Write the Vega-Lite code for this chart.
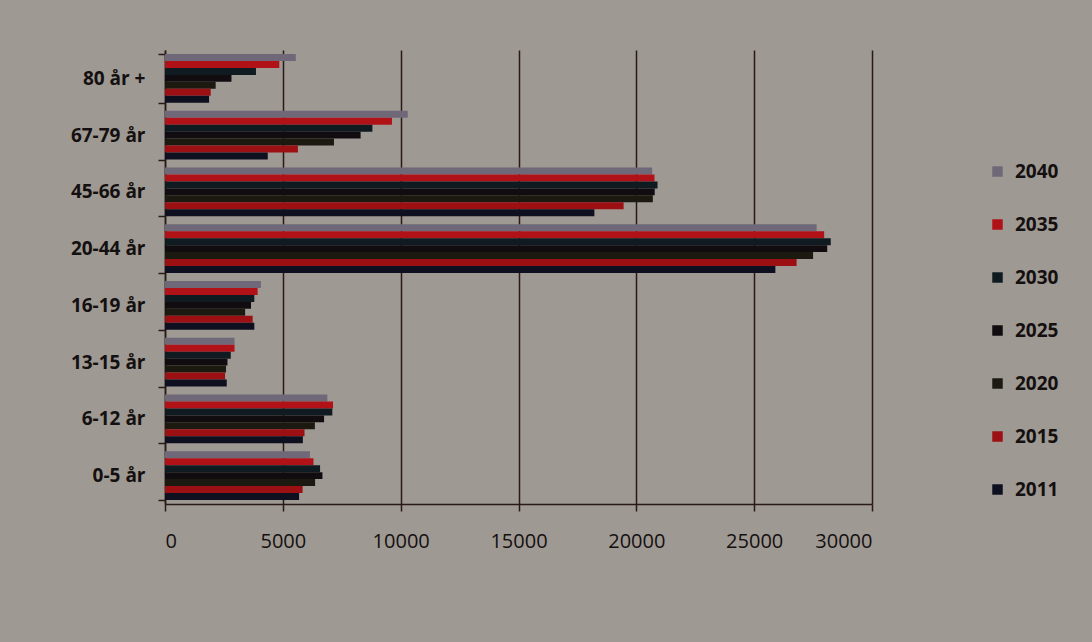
{
  "$schema": "https://vega.github.io/schema/vega-lite/v6.json",
  "autosize": "none",
  "width": 707,
  "height": 454,
  "padding": {"left": 165, "top": 50, "right": 220, "bottom": 138},
  "background": "#9f9993",
  "config": {
    "view": {"stroke": null},
    "font": "Open Sans",
    "scale": {"offsetBandPaddingInner": 0, "offsetBandPaddingOuter": 0}
  },
  "data": {
    "values": [
      {"g": "80 år +", "year": "2040", "v": 5550},
      {"g": "80 år +", "year": "2035", "v": 4850},
      {"g": "80 år +", "year": "2030", "v": 3860},
      {"g": "80 år +", "year": "2025", "v": 2820},
      {"g": "80 år +", "year": "2020", "v": 2150},
      {"g": "80 år +", "year": "2015", "v": 1940},
      {"g": "80 år +", "year": "2011", "v": 1870},
      {"g": "67-79 år", "year": "2040", "v": 10300},
      {"g": "67-79 år", "year": "2035", "v": 9630},
      {"g": "67-79 år", "year": "2030", "v": 8800},
      {"g": "67-79 år", "year": "2025", "v": 8300},
      {"g": "67-79 år", "year": "2020", "v": 7170},
      {"g": "67-79 år", "year": "2015", "v": 5640},
      {"g": "67-79 år", "year": "2011", "v": 4360},
      {"g": "45-66 år", "year": "2040", "v": 20670},
      {"g": "45-66 år", "year": "2035", "v": 20770},
      {"g": "45-66 år", "year": "2030", "v": 20900},
      {"g": "45-66 år", "year": "2025", "v": 20780},
      {"g": "45-66 år", "year": "2020", "v": 20700},
      {"g": "45-66 år", "year": "2015", "v": 19460},
      {"g": "45-66 år", "year": "2011", "v": 18220},
      {"g": "20-44 år", "year": "2040", "v": 27650},
      {"g": "20-44 år", "year": "2035", "v": 27970},
      {"g": "20-44 år", "year": "2030", "v": 28250},
      {"g": "20-44 år", "year": "2025", "v": 28100},
      {"g": "20-44 år", "year": "2020", "v": 27500},
      {"g": "20-44 år", "year": "2015", "v": 26800},
      {"g": "20-44 år", "year": "2011", "v": 25900},
      {"g": "16-19 år", "year": "2040", "v": 4070},
      {"g": "16-19 år", "year": "2035", "v": 3930},
      {"g": "16-19 år", "year": "2030", "v": 3790},
      {"g": "16-19 år", "year": "2025", "v": 3650},
      {"g": "16-19 år", "year": "2020", "v": 3400},
      {"g": "16-19 år", "year": "2015", "v": 3720},
      {"g": "16-19 år", "year": "2011", "v": 3790},
      {"g": "13-15 år", "year": "2040", "v": 2950},
      {"g": "13-15 år", "year": "2035", "v": 2950},
      {"g": "13-15 år", "year": "2030", "v": 2790},
      {"g": "13-15 år", "year": "2025", "v": 2650},
      {"g": "13-15 år", "year": "2020", "v": 2590},
      {"g": "13-15 år", "year": "2015", "v": 2550},
      {"g": "13-15 år", "year": "2011", "v": 2620},
      {"g": "6-12 år", "year": "2040", "v": 6890},
      {"g": "6-12 år", "year": "2035", "v": 7130},
      {"g": "6-12 år", "year": "2030", "v": 7100},
      {"g": "6-12 år", "year": "2025", "v": 6750},
      {"g": "6-12 år", "year": "2020", "v": 6360},
      {"g": "6-12 år", "year": "2015", "v": 5920},
      {"g": "6-12 år", "year": "2011", "v": 5850},
      {"g": "0-5 år", "year": "2040", "v": 6150},
      {"g": "0-5 år", "year": "2035", "v": 6300},
      {"g": "0-5 år", "year": "2030", "v": 6580},
      {"g": "0-5 år", "year": "2025", "v": 6680},
      {"g": "0-5 år", "year": "2020", "v": 6370},
      {"g": "0-5 år", "year": "2015", "v": 5840},
      {"g": "0-5 år", "year": "2011", "v": 5690}
    ]
  },
  "mark": {"type": "bar", "strokeWidth": 0},
  "encoding": {
    "y": {
      "field": "g",
      "type": "nominal",
      "sort": ["80 år +", "67-79 år", "45-66 år", "20-44 år", "16-19 år", "13-15 år", "6-12 år", "0-5 år"],
      "scale": {"paddingInner": 0.14, "paddingOuter": 0.07},
      "axis": {
        "title": null,
        "tickBand": "extent",
        "tickSize": 7,
        "tickColor": "#2a1a16",
        "tickWidth": 1.5,
        "domainColor": "#2a1a16",
        "domainWidth": 1.5,
        "labelFont": "Open Sans",
        "labelFontWeight": "bold",
        "labelFontSize": 19,
        "labelColor": "#141010",
        "labelPadding": 13,
        "grid": false
      }
    },
    "yOffset": {
      "field": "year",
      "type": "nominal",
      "sort": ["2040", "2035", "2030", "2025", "2020", "2015", "2011"],
      "scale": {"paddingInner": 0, "paddingOuter": 0}
    },
    "x": {
      "field": "v",
      "type": "quantitative",
      "scale": {"domain": [0, 30000], "nice": false},
      "axis": {
        "title": null,
        "values": [0, 5000, 10000, 15000, 20000, 25000, 30000],
        "format": "d",
        "grid": true,
        "gridColor": "#2a1a16",
        "gridWidth": 1.5,
        "tickSize": 7,
        "tickColor": "#2a1a16",
        "tickWidth": 1.5,
        "domainColor": "#2a1a16",
        "domainWidth": 1.5,
        "labelFont": "Open Sans",
        "labelFontSize": 20,
        "labelColor": "#141010",
        "labelPadding": 20
      }
    },
    "color": {
      "field": "year",
      "type": "nominal",
      "sort": ["2040", "2035", "2030", "2025", "2020", "2015", "2011"],
      "scale": {
        "domain": ["2040", "2035", "2030", "2025", "2020", "2015", "2011"],
        "range": ["#6e6878", "#b01218", "#0f1b21", "#100c10", "#1c1a10", "#9c1014", "#0e1020"]
      },
      "legend": {
        "title": null,
        "orient": "none",
        "legendX": 823,
        "legendY": 112,
        "symbolType": "square",
        "symbolSize": 110,
        "symbolStrokeWidth": 0,
        "labelFont": "Open Sans",
        "labelFontWeight": "bold",
        "labelFontSize": 19,
        "labelColor": "#141010",
        "labelOffset": 8,
        "rowPadding": 33
      }
    }
  }
}
